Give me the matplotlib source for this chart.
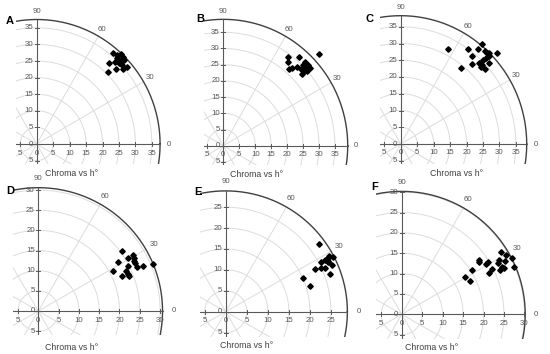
import numpy as np
import matplotlib
matplotlib.use("Agg")
import matplotlib.pyplot as plt

plt.rcParams['font.family'] = ['Liberation Sans', 'DejaVu Sans']

# ---- data (a*, b*; chroma = radius, h° = angle) ----
a_A = [23.1, 25.6, 26.2, 24.5, 25.4, 23.8, 22.1, 24.9, 25.9, 27.4, 26.2, 24.1, 21.8, 26.4, 24.3]
b_A = [27.3, 27.1, 26.3, 25.8, 25.1, 24.8, 24.3, 24.3, 23.8, 23.3, 22.6, 22.5, 21.8, 25.3, 26.8]

a_B = [20.2, 20.2, 20.6, 21.4, 23.1, 23.7, 24.3, 25.1, 25.6, 25.8, 24.8, 25.4, 26.2, 26.6, 27.3, 30.0, 26.1]
b_B = [27.3, 25.7, 23.7, 23.9, 24.4, 27.5, 23.7, 24.9, 25.9, 24.4, 22.1, 23.1, 23.1, 24.9, 23.9, 28.2, 23.8]

a_C = [14.3, 18.4, 20.6, 21.8, 21.6, 23.6, 24.6, 23.9, 24.4, 24.8, 25.5, 25.7, 26.2, 26.9, 25.9, 26.8, 26.8, 29.3, 25.1]
b_C = [28.4, 22.8, 28.3, 26.3, 23.8, 28.3, 30.0, 24.1, 23.1, 23.6, 22.3, 27.9, 27.1, 27.3, 25.6, 26.3, 24.3, 27.3, 25.0]

a_D = [18.3, 19.7, 20.7, 20.7, 21.6, 22.0, 22.2, 22.2, 22.3, 23.4, 23.6, 23.6, 23.8, 24.2, 25.9, 28.2]
b_D = [9.9, 12.1, 14.9, 8.7, 9.9, 9.3, 13.1, 11.2, 8.8, 13.9, 13.2, 12.4, 12.0, 11.0, 11.2, 11.6]

a_E = [18.4, 20.0, 21.2, 22.2, 22.6, 22.6, 23.6, 23.6, 24.2, 24.4, 24.5, 24.7, 25.2, 25.6, 24.4]
b_E = [8.1, 6.2, 10.2, 16.1, 11.8, 10.5, 12.4, 10.5, 11.8, 12.8, 13.4, 8.9, 11.2, 13.2, 12.2]

a_F = [15.5, 16.8, 17.3, 18.9, 18.9, 20.5, 21.0, 21.4, 22.2, 23.5, 23.7, 24.3, 24.1, 24.5, 25.1, 25.3, 25.4, 26.9, 27.5]
b_F = [9.1, 8.2, 10.9, 13.3, 12.8, 12.3, 12.8, 10.2, 11.1, 12.5, 13.3, 15.2, 10.9, 11.5, 11.3, 13.0, 14.5, 13.8, 11.5]

panel_letters = ["A", "B", "C", "D", "E", "F"]
ring_max = [35, 35, 35, 30, 25, 30]
angle_labels = [0, 30, 60, 90]
title_text = "Chroma vs h°"

series_a = [a_A, a_B, a_C, a_D, a_E, a_F]
series_b = [b_A, b_B, b_C, b_D, b_E, b_F]

# ---- layout (pixel geometry of each panel) ----
W, H = 550, 354
# origin x, origin y, px/unit x, px/unit y, outer arc radius
geom = [
    (36.7, 144.0, 3.29, 3.32, 37.5),
    (223.3, 145.7, 3.19, 3.24, 39.0),
    (400.7, 144.0, 3.29, 3.35, 38.3),
    (38.3, 311.0, 4.06, 4.03, 30.6),
    (225.7, 311.7, 4.21, 4.18, 28.9),
    (401.7, 314.3, 4.09, 4.07, 30.2),
]
letter_pos = [(10, 21), (200, 19), (369, 19), (10, 191), (198, 192), (375, 187)]
title_pos = [(72, 173), (257, 175), (457, 173), (72, 348), (247, 346), (432, 348)]

GRID = '#dcdcdc'
AXC = '#595959'
TXT = '#595959'

fig = plt.figure(figsize=(W / 100, H / 100), dpi=100)
fig.patch.set_facecolor('white')

for i in range(6):
    ox, oy, sx, sy, R = geom[i]
    rmax = ring_max[i]
    xmin, ymin = -6.2, -6.0
    xmax, ymax = R + 0.6, R + 0.6
    left_px = ox + xmin * sx
    right_px = ox + xmax * sx
    top_px = oy - ymax * sy
    bot_px = oy - ymin * sy
    ax = fig.add_axes([left_px / W, 1 - bot_px / H,
                       (right_px - left_px) / W, (bot_px - top_px) / H])
    ax.set_xlim(xmin, xmax)
    ax.set_ylim(ymin, ymax)
    ax.axis('off')

    th = np.linspace(0, 2 * np.pi, 721)
    for r in range(5, rmax + 1, 5):
        ax.plot(r * np.cos(th), r * np.sin(th), color=GRID, lw=0.7, zorder=1)
    for ang in range(0, 360, 30):
        if ang % 90 == 0:
            continue
        t = np.deg2rad(ang)
        ax.plot([0, R * np.cos(t)], [0, R * np.sin(t)], color=GRID, lw=0.7, zorder=1)
    # outer arc
    ax.plot(R * np.cos(th), R * np.sin(th), color='#404040', lw=1.0, zorder=2)

    # axes lines
    ax.plot([xmin, R], [0, 0], color=AXC, lw=0.8, zorder=3)
    ax.plot([0, 0], [ymin, R], color=AXC, lw=0.8, zorder=3)
    tl = 2.0
    for v in range(-5, rmax + 1, 5):
        ax.plot([v, v], [-tl / sy, tl / sy], color=AXC, lw=0.7, zorder=3)
        ax.plot([-tl / sx, tl / sx], [v, v], color=AXC, lw=0.7, zorder=3)
        ax.text(v, -9.0 / sy, str(abs(v)), ha='center', va='center',
                fontsize=5.7, color=TXT, zorder=4)
        ax.text(-3.5 / sx, v, str(abs(v)), ha='right', va='center',
                fontsize=5.7, color=TXT, zorder=4)

    # angle labels
    Rl = R + 2.3
    for a in angle_labels:
        t = np.deg2rad(a)
        ax.text(Rl * np.cos(t) + (0.4 if a == 0 else 0), Rl * np.sin(t),
                str(a), ha='center', va='center', fontsize=5.7,
                color=TXT, clip_on=False)

    ax.plot(series_a[i], series_b[i], linestyle='none', marker='D',
            markersize=2.8, color='black', zorder=5, clip_on=False)

    lx, ly = letter_pos[i]
    fig.text(lx / W, 1 - ly / H, panel_letters[i], ha='center', va='center',
             fontsize=8, fontweight='bold', color='black')
    tx, ty = title_pos[i]
    fig.text(tx / W, 1 - ty / H, title_text, ha='center', va='center',
             fontsize=6.3, color='#404040')

fig.savefig('out.png', dpi=100, facecolor='white')
